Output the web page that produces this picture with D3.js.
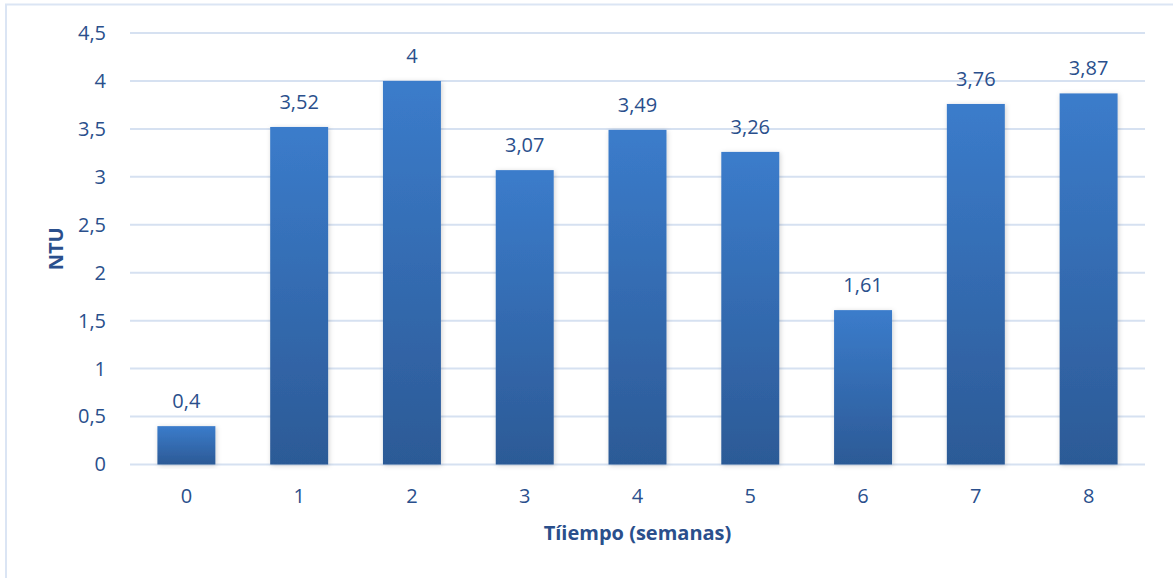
<!DOCTYPE html>
<html>
<head>
<meta charset="utf-8">
<script src="https://cdn.jsdelivr.net/npm/d3@7"></script>
<style>
  html, body { margin: 0; padding: 0; background: #fff; }
  svg { display: block; font-family: "Open Sans", "Noto Sans", sans-serif; }
</style>
</head>
<body>
<svg id="chart" width="1173" height="578"></svg>
<script>
// Turbidity per week
const weeks = ["0", "1", "2", "3", "4", "5", "6", "7", "8"];
const ntu = [0.4, 3.52, 4, 3.07, 3.49, 3.26, 1.61, 3.76, 3.87];
const yTicks = [0, 0.5, 1, 1.5, 2, 2.5, 3, 3.5, 4, 4.5];

const textColor = "#2a4f8c";
const gridColor = "#d6e1f1";
const fontSize = "20px";

const svg = d3.select("#chart");
const W = 1173, H = 578;
const plot = { left: 130, right: 1145, top: 33, bottom: 464.5 };

// Outer chart frame
svg.append("rect")
  .attr("x", 6).attr("y", 4.5)
  .attr("width", W + 10).attr("height", H + 10)
  .attr("fill", "#fff")
  .attr("stroke", "#dbe5f4").attr("stroke-width", 2);

const defs = svg.append("defs");
const grad = defs.append("linearGradient")
  .attr("id", "barGrad").attr("x1", 0).attr("y1", 0).attr("x2", 0).attr("y2", 1);
grad.append("stop").attr("offset", "0%").attr("stop-color", "#3b7ccb");
grad.append("stop").attr("offset", "100%").attr("stop-color", "#2c5a96");

const shadow = defs.append("filter").attr("id", "barShadow")
  .attr("x", "-20%").attr("y", "-10%").attr("width", "140%").attr("height", "120%");
shadow.append("feDropShadow")
  .attr("dx", 1).attr("dy", 1).attr("stdDeviation", 2.5)
  .attr("flood-color", "#000").attr("flood-opacity", 0.18);

const x = d3.scaleBand()
  .domain(weeks)
  .range([plot.left, plot.right])
  .paddingInner(0.486)
  .paddingOuter(0.243);

const y = d3.scaleLinear()
  .domain([0, 4.5])
  .range([plot.bottom, plot.top]);

const fmt = v => String(v).replace(".", ",");

// Horizontal gridlines
svg.append("g")
  .selectAll("line")
  .data(yTicks)
  .join("line")
  .attr("x1", plot.left).attr("x2", plot.right)
  .attr("y1", d => y(d)).attr("y2", d => y(d))
  .attr("stroke", gridColor).attr("stroke-width", 2);

// Y axis labels
const yAxis = svg.append("g")
  .attr("transform", `translate(${plot.left},0)`)
  .call(d3.axisLeft(y).tickValues(yTicks).tickFormat(fmt).tickSize(0).tickPadding(24));
yAxis.select(".domain").remove();
yAxis.selectAll("text")
  .attr("fill", textColor)
  .style("font-size", fontSize)
  .style("font-family", "'Open Sans', sans-serif");

// X axis labels
const xAxis = svg.append("g")
  .attr("transform", `translate(0,${plot.bottom})`)
  .call(d3.axisBottom(x).tickSize(0).tickPadding(24));
xAxis.select(".domain").remove();
xAxis.selectAll("text")
  .attr("fill", textColor)
  .style("font-size", fontSize)
  .style("font-family", "'Open Sans', sans-serif");

// Bars
const data = weeks.map((w, i) => ({ week: w, value: ntu[i] }));
svg.append("g")
  .selectAll("rect")
  .data(data)
  .join("rect")
  .attr("x", d => x(d.week))
  .attr("width", x.bandwidth())
  .attr("y", d => y(d.value))
  .attr("height", d => y(0) - y(d.value))
  .attr("fill", "url(#barGrad)")
  .attr("filter", "url(#barShadow)");

// Value labels
svg.append("g")
  .selectAll("text")
  .data(data)
  .join("text")
  .attr("x", d => x(d.week) + x.bandwidth() / 2)
  .attr("y", d => y(d.value) - 18)
  .attr("text-anchor", "middle")
  .attr("fill", textColor)
  .style("font-size", fontSize)
  .text(d => fmt(d.value));

// Axis titles
svg.append("text")
  .attr("transform", `translate(63,${(plot.top + plot.bottom) / 2}) rotate(-90)`)
  .attr("text-anchor", "middle")
  .attr("fill", textColor)
  .style("font-size", fontSize)
  .style("font-weight", "bold")
  .text("NTU");

svg.append("text")
  .attr("x", (plot.left + plot.right) / 2)
  .attr("y", 540)
  .attr("text-anchor", "middle")
  .attr("fill", textColor)
  .style("font-size", fontSize)
  .style("font-weight", "bold")
  .text("Tíiempo (semanas)");
</script>
</body>
</html>
